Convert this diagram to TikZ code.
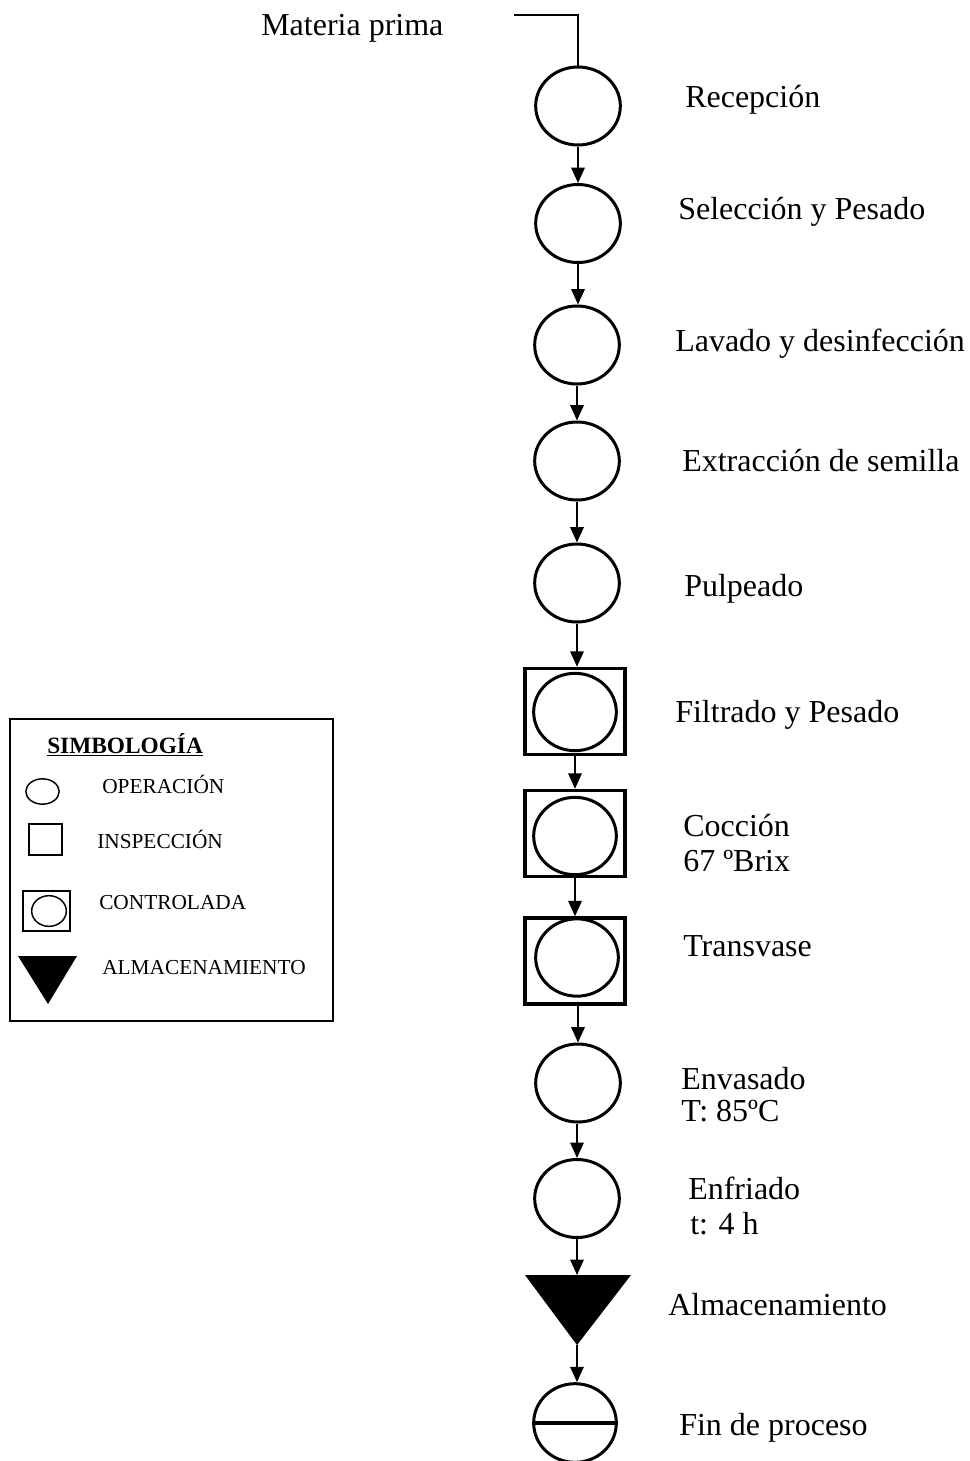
\documentclass[tikz,border=0pt]{standalone}
\usepackage{fontspec}
\setmainfont{Liberation Serif}
\usetikzlibrary{shapes.geometric,arrows.meta}
\begin{document}
\begin{tikzpicture}[x=0.75pt,y=-0.75pt,
  op/.style={ellipse,draw,line width=2.25pt,minimum width=63.5pt,minimum height=58.5pt,inner sep=0pt},
  opin/.style={ellipse,draw,line width=2.25pt,minimum width=62pt,minimum height=58pt,inner sep=0pt},
  ctrl/.style={rectangle,draw,line width=2.6pt,minimum width=75pt,minimum height=64.5pt,inner sep=0pt},
  flow/.style={line width=1.5pt,-{Triangle[width=10pt,length=11.5pt]}},
  feed/.style={line width=1.5pt},
  lbl/.style={anchor=west,inner sep=0pt,font=\fontsize{24}{28}\selectfont,text height=1.3em,text depth=0.06em},
  leg/.style={anchor=west,inner sep=0pt,font=\fontsize{16}{18}\selectfont,text height=0.96em,text depth=0.06em},
  legshape/.style={draw,line width=1.1pt,inner sep=0pt},
]
\useasboundingbox (0,0) rectangle (970,1461);

% ---------- main chain ----------
\coordinate (mpin) at (514,15);
\node[op] (c1) at (578,106) {};
\node[op] (c2) at (578,223.5) {};
\node[op] (c3) at (577,345) {};
\node[op] (c4) at (577,461) {};
\node[op] (c5) at (577,583) {};
\node[ctrl] (b6) at (575,711.5) {};
\node[opin] (e6) at (575,712) {};
\node[ctrl] (b7) at (575,833.5) {};
\node[opin] (e7) at (575,836) {};
\node[ctrl] (b8) at (575,961) {};
\node[opin] (e8) at (577,957.5) {};
\node[op] (c9) at (578,1083) {};
\node[op] (c10) at (577,1198.5) {};
\coordinate (ttop) at (577,1275);
\coordinate (tapex) at (577,1345);
\fill (525,1275) -- (631,1275) -- (tapex) -- cycle;
\node[op,minimum width=62pt,minimum height=59pt] (fin) at (575,1423) {};
\draw[line width=2.4pt] (fin.west) -- (fin.east);

% connectors
\draw[feed] (mpin) -| (c1.north);
\draw[flow] (c1) -- (c2);
\draw[flow] (c2.south) -- (c2.south |- c3.north);
\draw[flow] (c3) -- (c4);
\draw[flow] (c4) -- (c5);
\draw[flow] (c5.south) -- (c5.south |- b6.north);
\draw[flow] (b6) -- (b7);
\draw[flow] (b7) -- (b8);
\draw[flow] (b8.south -| c9) -- (c9);
\draw[flow] (c9.south -| c10) -- (c10);
\draw[flow] (c10) -- (ttop);
\draw[flow] (tapex) -- (tapex |- fin.north);

% labels
\node[lbl] (lmp) at (261,27) {Materia prima};
\node[lbl] (l1) at (685,99) {Recepción};
\node[lbl] (l2) at (678,211) {Selección y Pesado};
\node[lbl] (l3) at (675,343) {Lavado y desinfección};
\node[lbl] (l4) at (682,463) {Extracción de semilla};
\node[lbl] (l5) at (684,588) {Pulpeado};
\node[lbl] (l6) at (675,714) {Filtrado y Pesado};
\node[lbl] (l7) at (683,828) {Cocción};
\node[lbl] (l7b) at (683,863) {67 ºBrix};
\node[lbl] (l8) at (683,948) {Transvase};
\node[lbl] (l9) at (681,1081) {Envasado};
\node[lbl] (l9b) at (681,1113) {T: 85ºC};
\node[lbl] (l10) at (688,1191) {Enfriado};
\node[lbl] (l10b) at (690,1226) {t: 4 h};
\node[lbl] (l11) at (668,1307) {Almacenamiento};
\node[lbl] (l12) at (679,1427) {Fin de proceso};

% ---------- legend ----------
\node[draw,line width=1.5pt,minimum width=242.25pt,minimum height=226.5pt,inner sep=0pt] (legend) at (171.5,870) {};
\node[anchor=west,inner sep=0pt,font=\fontsize{17.5}{20}\selectfont\bfseries,text height=0.96em,text depth=0.06em] (ltitle) at (47,747) {\underline{SIMBOLOGÍA}};
\node[legshape,ellipse,minimum width=25pt,minimum height=19pt] (lop) at (42.5,791.5) {};
\node[leg] (lopt) at (102,787) {OPERACIÓN};
\node[legshape,rectangle,minimum width=24.75pt,minimum height=23.25pt] (lsq) at (45.5,839.5) {};
\node[leg] (lsqt) at (97,842) {INSPECCIÓN};
\node[legshape,rectangle,minimum width=35pt,minimum height=30pt] (lct) at (46.5,911) {};
\node[legshape,ellipse,minimum width=26pt,minimum height=23pt] (lcte) at (49,911) {};
\node[leg] (lctt) at (99,903) {CONTROLADA};
\fill (18,956) -- (77,956) -- (48,1004) -- cycle;
\node[leg] (ltrt) at (102,968) {ALMACENAMIENTO};
\end{tikzpicture}
\end{document}
